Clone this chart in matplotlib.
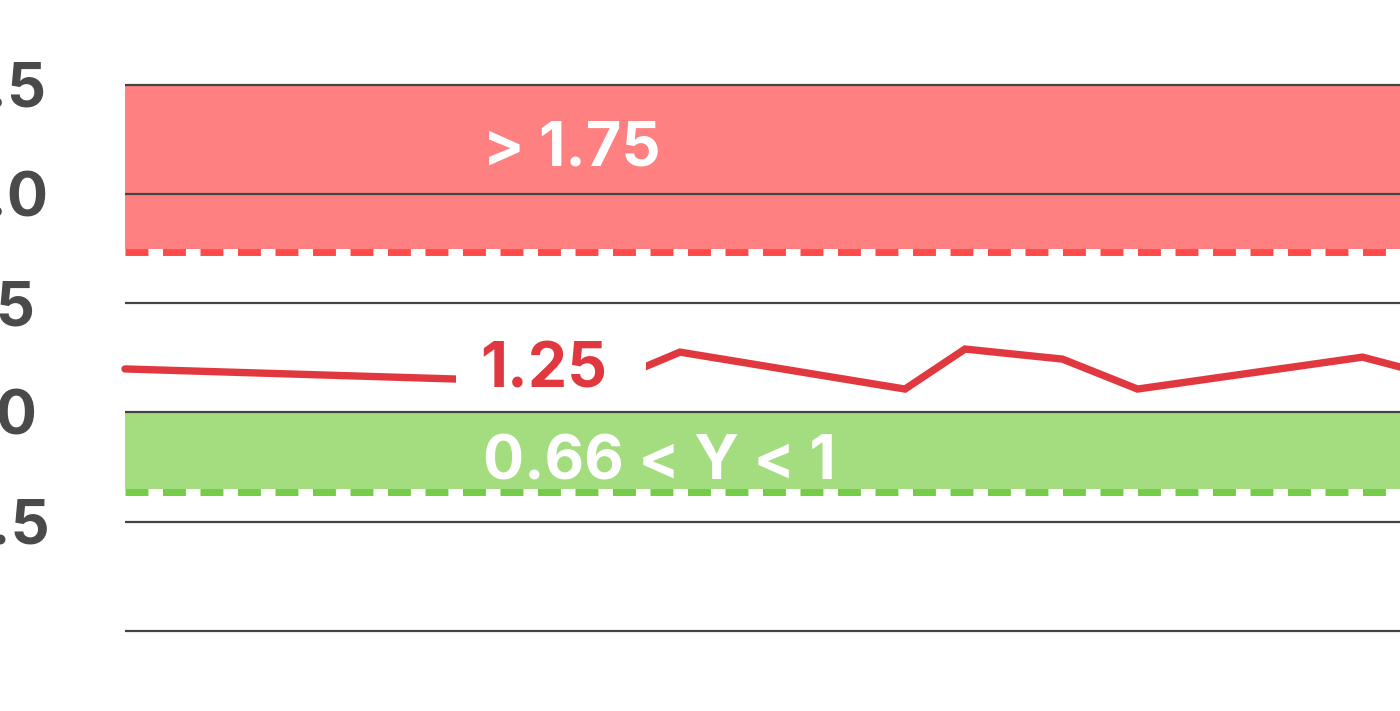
import numpy as np
import matplotlib.pyplot as plt
import matplotlib.transforms as mtransforms
from matplotlib.patches import Rectangle

# dane: dni i wartości wskaźnika
dni = [0, 64, 74, 104, 112, 125, 135, 165, 172]
wartosci = [1.199, 1.132, 1.276, 1.107, 1.290, 1.244, 1.107, 1.253, 1.190]

# progi stref
czerwona_od, czerwona_do = 1.75, 2.5
zielona_od, zielona_do = 0.65, 1.0

yticks = [0, 0.5, 1.0, 1.5, 2.0, 2.5]
ytick_labels = ["0", "0.5", "1.0", "1.5", "2.0", "2.5"]

etykieta_czerwona = "> 1.75"
etykieta_zielona = "0.66 < Y < 1"
etykieta_linii = "1.25"

plt.rcParams['font.family'] = ['Inter', 'DejaVu Sans']
plt.rcParams['font.weight'] = 'bold'

fig = plt.figure(figsize=(14, 7.11), dpi=100)
ax = fig.add_axes([125 / 1400, 0, 1275 / 1400, 1])
ax.set_xlim(0, 170)
ax.set_ylim(-0.366, 2.887)

# strefy
ax.axhspan(czerwona_od, czerwona_do, color='#ff8080', lw=0, zorder=1)
ax.axhspan(zielona_od, zielona_do, color='#a3dd80', lw=0, zorder=1)
ax.axhline(czerwona_od - 0.015, color='#ff4a4a', lw=5, dashes=(3.3, 2.1), zorder=1.5)
ax.axhline(zielona_od - 0.015, color='#75cc48', lw=5, dashes=(3.3, 2.1), zorder=1.5)

# linia
ax.plot(dni, wartosci, color='#e0383e', lw=5.3, solid_capstyle='round',
        solid_joinstyle='miter', zorder=2, clip_on=False)

# przerwa w linii na etykietę
ax.add_patch(Rectangle((44.1, 1.05), 25.4, 0.35, color='white', lw=0, zorder=2.1))

ax.text(47.7, 2.132, etykieta_czerwona, color='white', fontsize=44,
        fontweight='bold', va='baseline', ha='left', zorder=3)
ax.text(47.3, 1.116, etykieta_linii, color='#e0383e', fontsize=45,
        fontweight='bold', va='baseline', ha='left', zorder=3)
ax.text(47.7, 0.691, etykieta_zielona, color='white', fontsize=44,
        fontweight='bold', va='baseline', ha='left', zorder=3)

# siatka
ax.set_yticks(yticks)
ax.set_yticklabels([])
ax.set_xticks([])
ax.grid(axis='y', color='#444444', lw=1.6)
ax.set_axisbelow(False)
ax.tick_params(axis='y', length=0)
for s in ax.spines.values():
    s.set_visible(False)

# etykiety osi Y wyrównane do lewej, częściowo ucięte krawędzią
tr = mtransforms.blended_transform_factory(fig.transFigure, ax.transData)
for y, lab in zip(yticks, ytick_labels):
    ax.text(-51 / 1400, y, lab, transform=tr, ha='left', va='center_baseline',
            fontsize=44, fontweight='bold', color='#4a4a4a', clip_on=False)

fig.savefig('out.png', dpi=100)
